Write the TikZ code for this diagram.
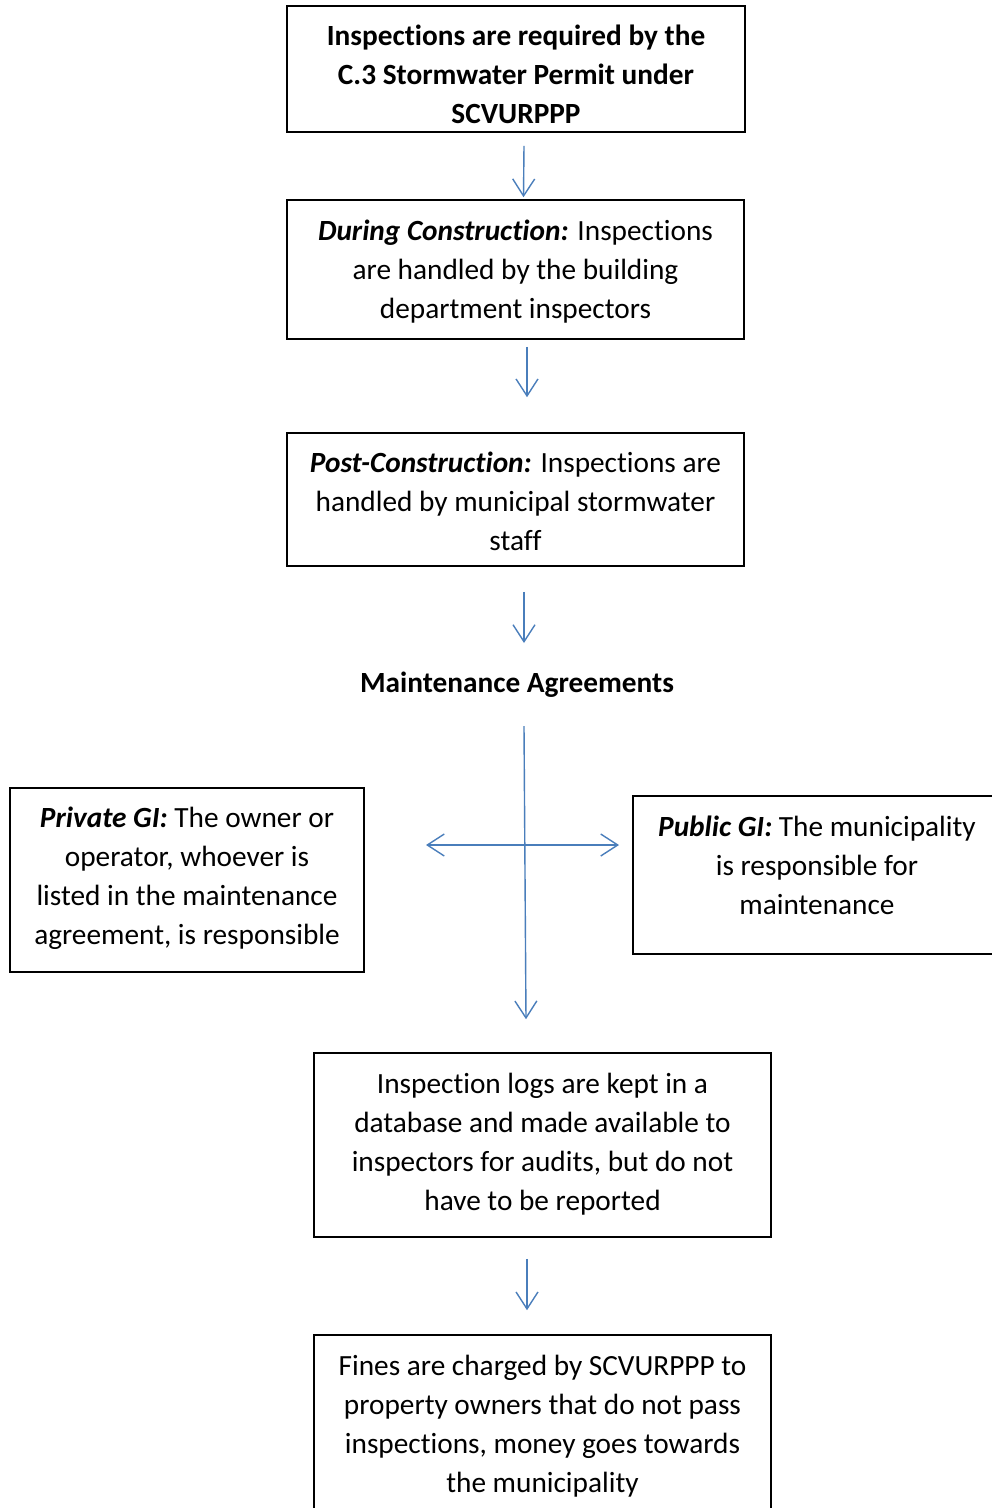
\documentclass[tikz,border=0pt]{standalone}
\usepackage{fontspec}
\setmainfont{Carlito}[RawFeature=-liga]
\usetikzlibrary{arrows.meta}
\definecolor{arrblue}{HTML}{4A7EBB}
\tikzset{
  box/.style={draw=black, line width=1.6pt, inner sep=0pt},
  txt/.style={inner sep=0pt, align=center, font=\fontsize{29.3}{39}\selectfont},
  arr/.style={draw=arrblue, line width=1.4pt, -{Straight Barb[length=17pt,width=22pt,line width=1.4pt]}},
  darr/.style={draw=arrblue, line width=1.4pt, {Straight Barb[length=17pt,width=22pt,line width=1.4pt]}-{Straight Barb[length=17pt,width=22pt,line width=1.4pt]}}
}
\begin{document}
\begin{tikzpicture}[x=1pt,y=-1pt]
\useasboundingbox (0,0) rectangle (992,1508);
\clip (0,0) rectangle (992,1508);
\fill[white] (0,0) rectangle (992,1508);

\node[box, minimum width=458pt, minimum height=126pt] (b1) at (516,69) {};
\node[txt, font=\fontsize{29.3}{39}\selectfont\bfseries] (b1t) at (516,74)
  {Inspections are required by the\\C.3 Stormwater Permit under\\SCVURPPP};
\node[box, minimum width=457pt, minimum height=139pt] (b2) at (515.5,269.5) {};
\node[txt] (b2t) at (515.5,271.5)
  {\textbf{\textit{During Construction:}} Inspections\\are handled by the building\\department inspectors};
\node[box, minimum width=457pt, minimum height=133pt] (b3) at (515.5,499.5) {};
\node[txt] (b3t) at (515.5,501.5)
  {\textbf{\textit{Post-Construction:}} Inspections are\\handled by municipal stormwater\\staff};
\node[txt, font=\fontsize{29.3}{39}\selectfont\bfseries] (ma) at (517,685) {Maintenance Agreements};

\node[box, minimum width=354pt, minimum height=184pt] (priv) at (187,880) {};
\node[txt] (privt) at (187,878.5)
  {\textbf{\textit{Private GI:}} The owner or\\operator, whoever is\\listed in the maintenance\\agreement, is responsible};
\node[box, minimum width=369pt, minimum height=158pt] (pub) at (817.5,875) {};
\node[txt] (pubt) at (817,865.5)
  {\textbf{\textit{Public GI:}} The municipality\\is responsible for\\maintenance};

\node[box, minimum width=457pt, minimum height=184pt] (logs) at (542.5,1145) {};
\node[txt] (logst) at (542.5,1144)
  {Inspection logs are kept in a\\database and made available to\\inspectors for audits, but do not\\have to be reported};
\node[box, minimum width=457pt, minimum height=177pt] (fines) at (542.5,1423.5) {};
\node[txt] (finest) at (542.5,1426.5)
  {Fines are charged by SCVURPPP to\\property owners that do not pass\\inspections, money goes towards\\the municipality};

\draw[arr] ([xshift=8pt,yshift=-13pt]b1.south) -- ([xshift=8pt,yshift=2pt]b2.north);
\draw[arr] ([xshift=11.5pt,yshift=-7pt]b2.south) -- ([xshift=11.5pt,yshift=35pt]b3.north);
\draw[arr] ([xshift=8.5pt,yshift=-25pt]b3.south) -- ([xshift=7pt,yshift=42pt]ma.center);
\draw[arr] ([xshift=7pt,yshift=-41pt]ma.center) -- ([xshift=-16.5pt,yshift=33pt]logs.north);
\coordinate (hl) at (426,845);
\coordinate (hr) at (619,845);
\draw[darr] (hl) -- (hr);
\draw[arr] ([xshift=-15.5pt,yshift=-21pt]logs.south) -- ([xshift=-15.5pt,yshift=24pt]fines.north);
\end{tikzpicture}
\end{document}
